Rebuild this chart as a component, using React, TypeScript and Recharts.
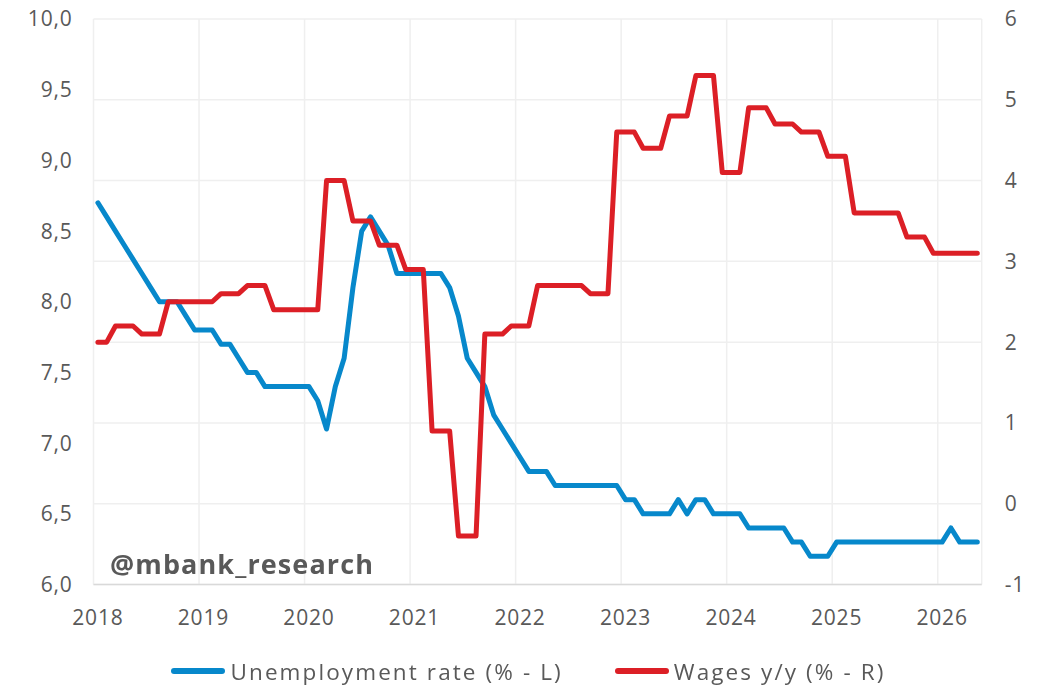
import React from 'react'
import { LineChart, Line, XAxis, YAxis, CartesianGrid, Legend } from 'recharts'

const START_YEAR = 2018

const yearLabels = ['2018', '2019', '2020', '2021', '2022', '2023', '2024', '2025', '2026']

// monthly, Jan 2018 .. May 2026
const unemployment = [
    8.7, 8.6, 8.5, 8.4, 8.3, 8.2, 8.1, 8.0, 8.0, 8.0, 7.9, 7.8,
    7.8, 7.8, 7.7, 7.7, 7.6, 7.5, 7.5, 7.4, 7.4, 7.4, 7.4, 7.4,
    7.4, 7.3, 7.1, 7.4, 7.6, 8.1, 8.5, 8.6, 8.5, 8.4, 8.2, 8.2,
    8.2, 8.2, 8.2, 8.2, 8.1, 7.9, 7.6, 7.5, 7.4, 7.2, 7.1, 7.0,
    6.9, 6.8, 6.8, 6.8, 6.7, 6.7, 6.7, 6.7, 6.7, 6.7, 6.7, 6.7,
    6.6, 6.6, 6.5, 6.5, 6.5, 6.5, 6.6, 6.5, 6.6, 6.6, 6.5, 6.5,
    6.5, 6.5, 6.4, 6.4, 6.4, 6.4, 6.4, 6.3, 6.3, 6.2, 6.2, 6.2,
    6.3, 6.3, 6.3, 6.3, 6.3, 6.3, 6.3, 6.3, 6.3, 6.3, 6.3, 6.3,
    6.3, 6.4, 6.3, 6.3, 6.3
]

const wages = [
    2.0, 2.0, 2.2, 2.2, 2.2, 2.1, 2.1, 2.1, 2.5, 2.5, 2.5, 2.5,
    2.5, 2.5, 2.6, 2.6, 2.6, 2.7, 2.7, 2.7, 2.4, 2.4, 2.4, 2.4,
    2.4, 2.4, 4.0, 4.0, 4.0, 3.5, 3.5, 3.5, 3.2, 3.2, 3.2, 2.9,
    2.9, 2.9, 0.9, 0.9, 0.9, -0.4, -0.4, -0.4, 2.1, 2.1, 2.1, 2.2,
    2.2, 2.2, 2.7, 2.7, 2.7, 2.7, 2.7, 2.7, 2.6, 2.6, 2.6, 4.6,
    4.6, 4.6, 4.4, 4.4, 4.4, 4.8, 4.8, 4.8, 5.3, 5.3, 5.3, 4.1,
    4.1, 4.1, 4.9, 4.9, 4.9, 4.7, 4.7, 4.7, 4.6, 4.6, 4.6, 4.3,
    4.3, 4.3, 3.6, 3.6, 3.6, 3.6, 3.6, 3.6, 3.3, 3.3, 3.3, 3.1,
    3.1, 3.1, 3.1, 3.1, 3.1
]

const leftTicks = [6, 6.5, 7, 7.5, 8, 8.5, 9, 9.5, 10]
const rightTicks = [-1, 0, 1, 2, 3, 4, 5, 6]

const data = unemployment.map((u, i) => ({ month: i, unemployment: u, wages: wages[i] }))

// labels sit on January, gridlines on the year boundary
const yearStarts = yearLabels.map((_, i) => i * 12)
const yearBounds = yearLabels.map((_, i) => i * 12 - 0.5)
const xDomain = [-0.5, data.length - 0.5]

const BLUE = '#0788CB'
const RED = '#DC1F26'
const TEXT = '#595959'
const GRID = '#EFEFEF'
const FONT = "'Open Sans', sans-serif"

const tickStyle = { fill: TEXT, fontSize: 21, fontFamily: FONT, letterSpacing: 0.8 }

const legendItems = [
    { label: 'Unemployment rate (% - L)', color: BLUE },
    { label: 'Wages y/y (% - R)', color: RED }
]

function LegendContent() {
    return (
        <div
            style={{
                height: 34,
                boxSizing: 'border-box',
                paddingTop: 6,
                paddingLeft: 17,
                display: 'flex',
                justifyContent: 'center',
                alignItems: 'center',
                gap: 52,
                fontFamily: FONT
            }}
        >
            {legendItems.map((item) => (
                <div key={item.label} style={{ display: 'flex', alignItems: 'center' }}>
                    <span
                        style={{
                            width: 54,
                            height: 6,
                            borderRadius: 3,
                            background: item.color,
                            marginRight: 5,
                            display: 'inline-block'
                        }}
                    />
                    <span style={{ fontSize: 22.5, letterSpacing: 2.1, color: TEXT, whiteSpace: 'nowrap' }}>
                        {item.label}
                    </span>
                </div>
            ))}
        </div>
    )
}

export default function App() {
    return (
        <div style={{ position: 'fixed', left: 0, top: 0, width: 1040, height: 685, background: '#FFFFFF' }}>
            <LineChart width={1040} height={685} data={data} margin={{ top: 19, right: 0, left: 0, bottom: 0 }}>
                <CartesianGrid xAxisId="grid" yAxisId="right" stroke={GRID} strokeWidth={1.5} />
                <XAxis
                    xAxisId="grid"
                    type="number"
                    dataKey="month"
                    domain={xDomain}
                    ticks={yearBounds}
                    hide
                />
                <XAxis
                    type="number"
                    dataKey="month"
                    domain={xDomain}
                    ticks={yearStarts}
                    interval={0}
                    tickFormatter={(v: number) => String(START_YEAR + v / 12)}
                    axisLine={{ stroke: '#D9D9D9', strokeWidth: 1.5 }}
                    tickLine={false}
                    tickMargin={20}
                    height={66.5}
                    tick={tickStyle}
                />
                <YAxis
                    yAxisId="left"
                    domain={[6, 10]}
                    ticks={leftTicks}
                    interval={0}
                    tickFormatter={(v: number) => v.toFixed(1).replace('.', ',')}
                    axisLine={false}
                    tickLine={false}
                    tickMargin={15}
                    width={93.5}
                    tick={tickStyle}
                />
                <YAxis
                    yAxisId="right"
                    orientation="right"
                    domain={[-1, 6]}
                    ticks={rightTicks}
                    interval={0}
                    axisLine={false}
                    tickLine={false}
                    tickMargin={17}
                    width={58.3}
                    tick={tickStyle}
                />
                <Legend verticalAlign="bottom" content={<LegendContent />} />
                <Line
                    yAxisId="left"
                    type="linear"
                    dataKey="unemployment"
                    stroke={BLUE}
                    strokeWidth={5}
                    strokeLinejoin="round"
                    strokeLinecap="round"
                    dot={false}
                    isAnimationActive={false}
                />
                <Line
                    yAxisId="right"
                    type="linear"
                    dataKey="wages"
                    stroke={RED}
                    strokeWidth={5}
                    strokeLinejoin="round"
                    strokeLinecap="round"
                    dot={false}
                    isAnimationActive={false}
                />
            </LineChart>
            <svg
                width={1040}
                height={685}
                style={{ position: 'absolute', left: 0, top: 0, pointerEvents: 'none' }}
            >
                <text x={110} y={573.5} fill={TEXT} fontSize={27} fontWeight={700} fontFamily={FONT} letterSpacing={1.1}>
                    @mbank_research
                </text>
            </svg>
        </div>
    )
}
